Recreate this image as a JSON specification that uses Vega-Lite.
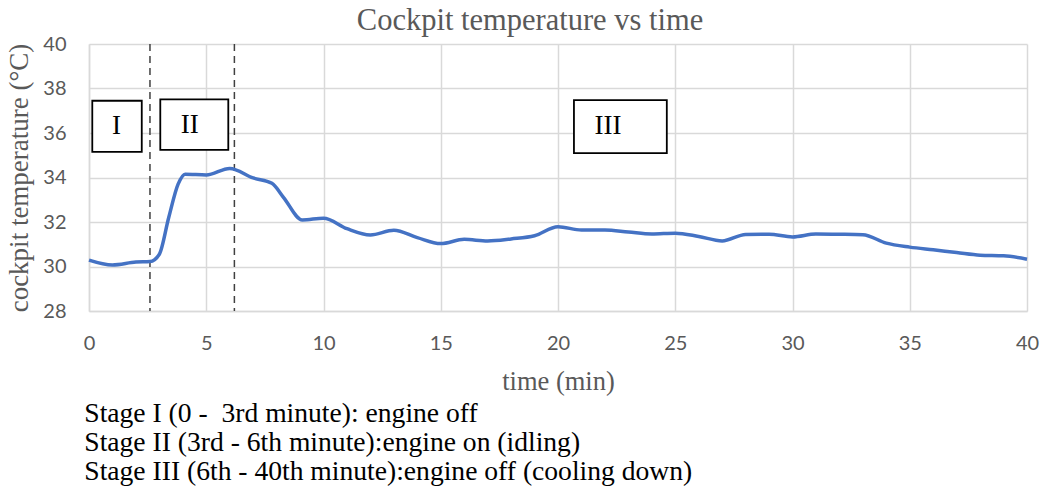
{
  "$schema": "https://vega.github.io/schema/vega-lite/v6.json",
  "background": "white",
  "padding": {"left": 5, "top": 5, "right": 10, "bottom": 0},
  "config": {"view": {"stroke": null}, "concat": {"spacing": 5}},
  "datasets": {
    "temp": [
      {"t": 0, "v": 30.29}, {"t": 1, "v": 30.07}, {"t": 2, "v": 30.2}, {"t": 2.6, "v": 30.22},
      {"t": 3, "v": 30.55}, {"t": 3.4, "v": 32.2}, {"t": 3.8, "v": 33.7}, {"t": 4.1, "v": 34.15},
      {"t": 5, "v": 34.11}, {"t": 6, "v": 34.41}, {"t": 7, "v": 33.98}, {"t": 7.8, "v": 33.74},
      {"t": 8.3, "v": 33.1}, {"t": 9.1, "v": 32.09}, {"t": 10, "v": 32.17}, {"t": 11, "v": 31.7},
      {"t": 12, "v": 31.42}, {"t": 13, "v": 31.63}, {"t": 14, "v": 31.3}, {"t": 15, "v": 31.03},
      {"t": 16, "v": 31.22}, {"t": 17, "v": 31.15}, {"t": 18, "v": 31.24}, {"t": 19, "v": 31.38},
      {"t": 20, "v": 31.79}, {"t": 21, "v": 31.64}, {"t": 22, "v": 31.64}, {"t": 23, "v": 31.55},
      {"t": 24, "v": 31.46}, {"t": 25, "v": 31.5}, {"t": 26, "v": 31.35}, {"t": 27, "v": 31.15},
      {"t": 28, "v": 31.44}, {"t": 29, "v": 31.45}, {"t": 30, "v": 31.33}, {"t": 31, "v": 31.46},
      {"t": 32, "v": 31.45}, {"t": 33, "v": 31.43}, {"t": 34, "v": 31.05}, {"t": 35, "v": 30.87},
      {"t": 36, "v": 30.75}, {"t": 37, "v": 30.63}, {"t": 38, "v": 30.51}, {"t": 39, "v": 30.48},
      {"t": 40, "v": 30.33}
    ],
    "bounds": [{"t": 2.6}, {"t": 6.2}],
    "boxes": [
      {"stage": "I", "x1": 0.14, "x2": 2.25, "y1": 35.15, "y2": 37.45, "lx": 1.17, "ly": 36.3},
      {"stage": "II", "x1": 3.04, "x2": 5.94, "y1": 35.24, "y2": 37.51, "lx": 4.3, "ly": 36.35},
      {"stage": "III", "x1": 20.68, "x2": 24.64, "y1": 35.1, "y2": 37.48, "lx": 22.13, "ly": 36.3}
    ],
    "footer": [
      {"line": 1, "text": "Stage I (0 -\u00a0 3rd minute): engine off"},
      {"line": 2, "text": "Stage II (3rd - 6th minute):engine on (idling)"},
      {"line": 3, "text": "Stage III (6th - 40th minute):engine off (cooling down)"}
    ]
  },
  "vconcat": [
    {
      "width": 938,
      "height": 267,
      "title": {
        "text": "Cockpit temperature vs time",
        "font": "Liberation Serif",
        "fontSize": 30.5,
        "fontWeight": "normal",
        "color": "#595959",
        "dx": -28,
        "offset": -2
      },
      "layer": [
        {
          "data": {"name": "bounds"},
          "mark": {"type": "rule", "color": "#404040", "strokeWidth": 1.5, "strokeDash": [7, 5]},
          "encoding": {
            "x": {"field": "t", "type": "quantitative", "scale": {"domain": [0, 40]}}
          }
        },
        {
          "data": {"name": "temp"},
          "mark": {"type": "line", "color": "#4472C4", "strokeWidth": 3.5, "interpolate": "monotone"},
          "encoding": {
            "x": {
              "field": "t", "type": "quantitative",
              "scale": {"domain": [0, 40], "nice": false},
              "axis": {
                "title": "time (min)",
                "values": [0, 5, 10, 15, 20, 25, 30, 35, 40],
                "grid": true, "gridColor": "#d9d9d9", "gridWidth": 1.5,
                "domainColor": "#d9d9d9", "domainWidth": 1.5,
                "ticks": false, "labelFlush": false, "labelOverlap": false,
                "labelFont": "Lato", "labelFontSize": 20, "labelColor": "#595959", "labelPadding": 22,
                "titleFont": "Liberation Serif", "titleFontSize": 26.5, "titleFontWeight": "normal",
                "titleColor": "#595959", "titlePadding": 15
              }
            },
            "y": {
              "field": "v", "type": "quantitative",
              "scale": {"domain": [28, 40], "nice": false, "zero": false},
              "axis": {
                "title": "cockpit temperature (°C)",
                "values": [28, 30, 32, 34, 36, 38, 40],
                "grid": true, "gridColor": "#d9d9d9", "gridWidth": 1.5,
                "domainColor": "#d9d9d9", "domainWidth": 1.5,
                "ticks": false,
                "labelFont": "Lato", "labelFontSize": 20, "labelColor": "#595959", "labelPadding": 23,
                "titleFont": "Liberation Serif", "titleFontSize": 27, "titleFontWeight": "normal",
                "titleColor": "#595959", "titlePadding": 9
              }
            }
          }
        },
        {
          "data": {"name": "boxes"},
          "mark": {"type": "rect", "fill": "white", "stroke": "black", "strokeWidth": 1.8},
          "encoding": {
            "x": {"field": "x1", "type": "quantitative"},
            "x2": {"field": "x2"},
            "y": {"field": "y1", "type": "quantitative"},
            "y2": {"field": "y2"}
          }
        },
        {
          "data": {"name": "boxes"},
          "mark": {"type": "text", "font": "Liberation Serif", "fontSize": 27, "color": "black", "baseline": "middle"},
          "encoding": {
            "x": {"field": "lx", "type": "quantitative"},
            "y": {"field": "ly", "type": "quantitative"},
            "text": {"field": "stage"}
          }
        }
      ]
    },
    {
      "width": 938,
      "height": 86,
      "data": {"name": "footer"},
      "mark": {"type": "text", "font": "Liberation Serif", "fontSize": 27.6, "color": "black", "align": "left", "baseline": "middle"},
      "encoding": {
        "x": {"datum": -0.2, "type": "quantitative", "scale": {"domain": [0, 40]}, "axis": null},
        "y": {"field": "line", "type": "quantitative", "scale": {"domain": [3.5, 0.5]}, "axis": null},
        "text": {"field": "text"}
      }
    }
  ]
}
